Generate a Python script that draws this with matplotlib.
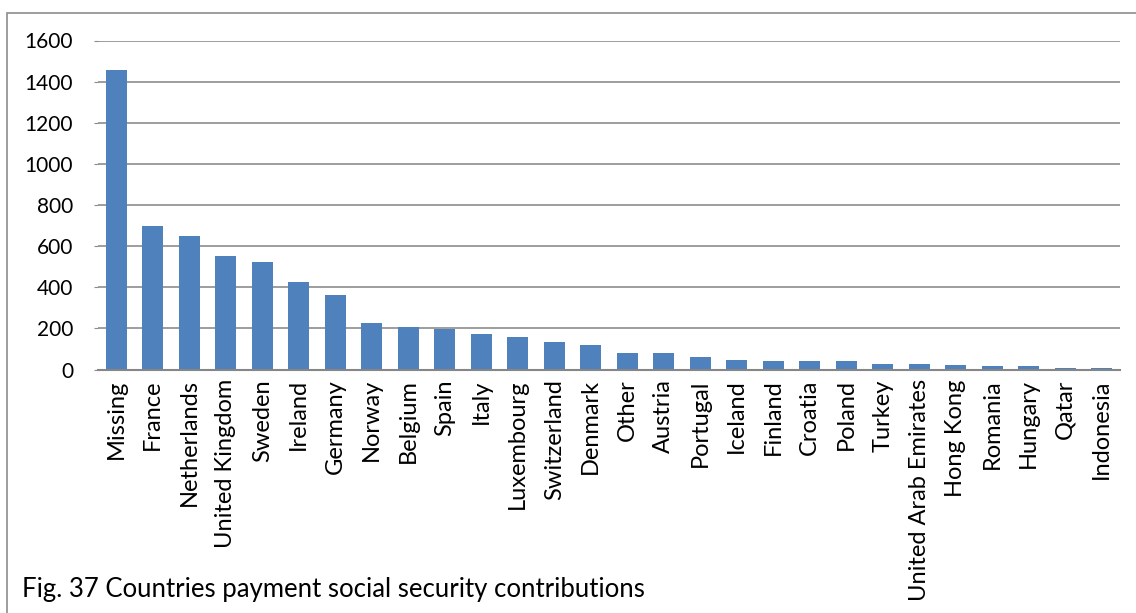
import matplotlib.pyplot as plt
from matplotlib.patches import Rectangle

countries = ['Missing', 'France', 'Netherlands', 'United Kingdom', 'Sweden', 'Ireland',
             'Germany', 'Norway', 'Belgium', 'Spain', 'Italy', 'Luxembourg', 'Switzerland',
             'Denmark', 'Other', 'Austria', 'Portugal', 'Iceland', 'Finland', 'Croatia',
             'Poland', 'Turkey', 'United Arab Emirates', 'Hong Kong', 'Romania', 'Hungary',
             'Qatar', 'Indonesia']
counts = [1455, 700, 650, 550, 525, 427, 362, 224, 208, 195, 171, 158, 132, 117,
          81, 81, 62, 46, 43, 43, 43, 28, 28, 21, 18, 17, 8, 6]
yticks = [0, 200, 400, 600, 800, 1000, 1200, 1400, 1600]

plt.rcParams['font.family'] = ['Lato', 'DejaVu Sans']

fig = plt.figure(figsize=(11.36, 6.13), dpi=100)
ax = fig.add_axes([98 / 1136, 1 - 369.5 / 613, (1120 - 98) / 1136, 329 / 613])

x = range(len(countries))
ax.bar(x, counts, width=0.57, color='#4F81BD', zorder=3)

ax.set_xlim(-0.5, len(countries) - 0.5)
ax.set_ylim(0, 1600)
ax.set_yticks(yticks)
ax.set_yticklabels([str(v) for v in yticks], fontsize=15)
ax.yaxis.grid(True, color='#8C8C8C', linewidth=1.2, zorder=0)
ax.set_xticks(list(x))
ax.set_xticklabels(countries, rotation=90, fontsize=17)
ax.tick_params(axis='x', length=0, pad=7)
ax.tick_params(axis='y', length=3, color='#8C8C8C', pad=15)

for s in ['top', 'right', 'left']:
    ax.spines[s].set_visible(False)
ax.spines['bottom'].set_color('#868686')
ax.spines['bottom'].set_linewidth(1.5)
ax.spines['bottom'].set_zorder(4)

# chart border (only top and left edges visible)
fig.add_artist(Rectangle((7 / 1136, -0.05), 1.2, 1 - 12.5 / 613 + 0.05,
                         transform=fig.transFigure, fill=False,
                         edgecolor='#8C8C8C', linewidth=1.2))

fig.text(22 / 1136, 1 - 590 / 613, 'Fig. 37 Countries payment social security contributions',
         fontsize=18.5, va='center', ha='left')

fig.savefig('out.png', dpi=100)
